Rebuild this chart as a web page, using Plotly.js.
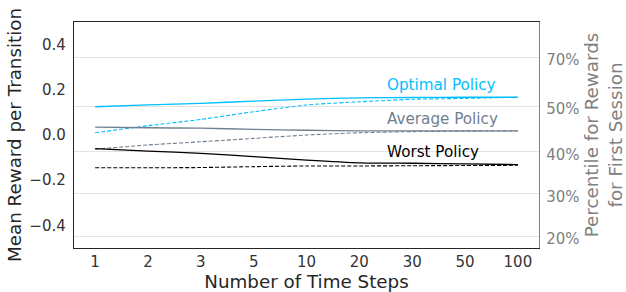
<!DOCTYPE html>
<html>
<head>
<meta charset="utf-8">
<script src="https://cdn.plot.ly/plotly-3.0.1.min.js"></script>
<style>html,body{margin:0;padding:0;background:#fff;}#chart{width:626px;height:292px;}</style>
</head>
<body>
<div id="chart"></div>
<script>
var timeSteps = ["1", "2", "3", "5", "10", "20", "30", "50", "100"];
var optimalSolid = [0.125, 0.133, 0.140, 0.150, 0.159, 0.164, 0.166, 0.167, 0.167];
var optimalDashed = [0.010, 0.041, 0.069, 0.103, 0.133, 0.147, 0.158, 0.162, 0.167];
var averageSolid = [0.035, 0.032, 0.030, 0.025, 0.021, 0.018, 0.018, 0.018, 0.018];
var averageDashed = [-0.063, -0.044, -0.030, -0.015, 0.000, 0.010, 0.015, 0.017, 0.018];
var worstSolid = [-0.060, -0.071, -0.081, -0.096, -0.111, -0.123, -0.125, -0.128, -0.131];
var worstDashed = [-0.145, -0.145, -0.144, -0.140, -0.137, -0.137, -0.136, -0.135, -0.134];
var leftTickVals = [-0.4, -0.2, 0.0, 0.2, 0.4];
var leftTickText = ["\u22120.4", "\u22120.2", "0.0", "0.2", "0.4"];
var percentileRewardValues = [-0.447, -0.261, -0.075, 0.128, 0.345];
var percentileLabels = ["20%", "30%", "40%", "50%", "70%"];
var policyNames = ["Optimal Policy", "Average Policy", "Worst Policy"];
var policyColors = ["#00BFFF", "#708090", "#000000"];
var labelYs = [0.221, 0.071, -0.075];

function line(y, color, dash, width) {
  return {x: timeSteps, y: y, type: "scatter", mode: "lines", hoverinfo: "skip",
    line: {color: color, dash: dash, width: width, shape: "spline", smoothing: 0.5}, showlegend: false};
}
var data = [
  line(optimalDashed, policyColors[0], "4px,2px", 1.1),
  line(averageDashed, policyColors[1], "4px,2px", 1.1),
  line(worstDashed, policyColors[2], "4px,2px", 1.1),
  line(optimalSolid, policyColors[0], "solid", 1.3),
  line(averageSolid, policyColors[1], "solid", 1.3),
  line(worstSolid, policyColors[2], "solid", 1.3),
  {x: timeSteps, y: averageSolid, yaxis: "y2", type: "scatter", mode: "lines", line: {width: 0}, hoverinfo: "skip", showlegend: false}
];
var annotations = policyNames.map(function (n, i) {
  return {text: n, x: 5.49, y: labelYs[i], xref: "x", yref: "y", xanchor: "left", yanchor: "middle",
    showarrow: false, font: {family: "DejaVu Sans", size: 15.2, color: policyColors[i]}};
});
var layout = {
  width: 626, height: 292,
  margin: {l: 74, r: 87, t: 22, b: 44},
  paper_bgcolor: "#fff", plot_bgcolor: "#fff",
  font: {family: "DejaVu Sans", color: "#262626"},
  showlegend: false,
  xaxis: {type: "category", range: [-0.4, 8.4], showgrid: false, zeroline: false,
    showline: true, mirror: true, linecolor: "#262626", linewidth: 1.2, ticks: "",
    tickfont: {size: 15, color: "#333"},
    title: {text: "Number of Time Steps", font: {size: 18.3, color: "#262626"}, standoff: 4}},
  yaxis: {range: [-0.5, 0.5], showgrid: false, zeroline: false, showline: true, linecolor: "#262626", linewidth: 1.2,
    ticks: "", tickvals: leftTickVals, ticktext: leftTickText, tickfont: {size: 15, color: "#333"},
    ticklabelstandoff: 4,
    title: {text: "Mean Reward per Transition", font: {size: 18.3, color: "#262626"}, standoff: 3}},
  yaxis2: {overlaying: "y", side: "right", range: [-0.5, 0.5], showgrid: true, gridcolor: "#e3e3e3", gridwidth: 1,
    zeroline: false, showline: true, linecolor: "#808080", linewidth: 1.2, ticks: "",
    tickvals: percentileRewardValues, ticktext: percentileLabels, tickfont: {size: 15, color: "#808080"},
    ticklabelstandoff: 3, ticklabelshift: 3,
    title: {text: "Percentile for Rewards<br>for First Session", font: {size: 18.3, color: "#808080"}, standoff: 18}},
  annotations: annotations
};
Plotly.newPlot("chart", data, layout, {staticPlot: true, displayModeBar: false});
</script>
</body>
</html>
